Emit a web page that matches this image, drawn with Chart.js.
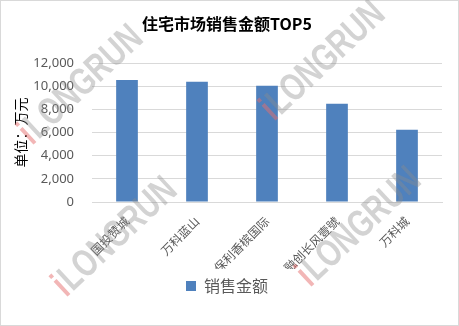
<!DOCTYPE html>
<html>
<head>
<meta charset="utf-8">
<script src="https://cdn.jsdelivr.net/npm/chart.js@4/dist/chart.umd.min.js"></script>
<style>
  html, body { margin: 0; padding: 0; background: #fff; }
  #wrap { width: 459px; height: 326px; }
</style>
</head>
<body>
<div id="wrap"><canvas id="salesChart" width="459" height="326"></canvas></div>
<script>
const projects = ['国投赞城', '万科蓝山', '保利香槟国际', '融创长风壹號', '万科城'];
const salesAmount = [10550, 10400, 10050, 8500, 6250];
const yTicks = [0, 2000, 4000, 6000, 8000, 10000, 12000];

const cjk = '"Noto Sans CJK SC", "Noto Sans", sans-serif';

// frame + white background
const framePlugin = {
  id: 'frame',
  beforeDraw(chart) {
    const ctx = chart.ctx;
    ctx.save();
    ctx.fillStyle = '#fff';
    ctx.fillRect(0, 0, chart.width, chart.height);
    ctx.strokeStyle = '#d9d9d9';
    ctx.lineWidth = 1;
    ctx.strokeRect(0.5, 0.5, chart.width - 1, chart.height - 1);
    ctx.restore();
  }
};

// iLONGRUN watermark
const watermarkPlugin = {
  id: 'watermark',
  afterDraw(chart) {
    const ctx = chart.ctx;
    const spots = [[32, 146], [66, 298], [274, 122], [310, 288]];
    ctx.save();
    spots.forEach(([x, y]) => {
      ctx.save();
      ctx.translate(x, y);
      ctx.rotate(-43 * Math.PI / 180);
      ctx.scale(0.9, 1.2);
      ctx.font = 'bold 32px "Liberation Sans", Arial, sans-serif';
      ctx.textBaseline = 'alphabetic';
      ctx.fillStyle = 'rgba(230, 110, 110, 0.5)';
      ctx.fillText('i', 0, 0);
      const w = ctx.measureText('i').width;
      ctx.fillStyle = 'rgba(140, 140, 140, 0.38)';
      ctx.fillText('LONGRUN', w + 1, 0);
      ctx.restore();
    });
    ctx.restore();
  }
};

new Chart(document.getElementById('salesChart').getContext('2d'), {
  type: 'bar',
  data: {
    labels: projects,
    datasets: [{
      label: '销售金额',
      data: salesAmount,
      backgroundColor: '#4f81bd',
      borderWidth: 0,
      categoryPercentage: 1,
      barPercentage: 0.31
    }]
  },
  options: {
    responsive: false,
    animation: false,
    layout: { padding: { left: 12, right: 17, top: 0, bottom: 22 } },
    plugins: {
      title: {
        display: true,
        text: '住宅市场销售金额TOP5',
        color: '#000',
        font: { family: cjk, size: 16, weight: 'bold' },
        padding: { top: 14, bottom: 30 }
      },
      legend: {
        position: 'bottom',
        labels: {
          color: '#595959',
          font: { family: cjk, size: 16 },
          boxWidth: 10,
          boxHeight: 10,
          padding: 9
        }
      },
      tooltip: { enabled: false }
    },
    scales: {
      x: {
        grid: { display: false, drawTicks: false },
        border: { color: '#d9d9d9' },
        ticks: {
          color: '#595959',
          font: { family: cjk, size: 12 },
          maxRotation: 45,
          minRotation: 45,
          padding: 12
        },
        afterFit(scale) { scale.height = 67; }
      },
      y: {
        min: 0,
        max: 12000,
        afterBuildTicks(scale) { scale.ticks = yTicks.map(v => ({ value: v })); },
        grid: { color: '#d9d9d9', drawTicks: false },
        border: { display: false },
        ticks: {
          color: '#595959',
          font: { family: '"Noto Sans", sans-serif', size: 13 },
          padding: 18,
          callback: v => v.toLocaleString('en-US')
        },
        title: {
          display: true,
          text: '单位：万元',
          color: '#000',
          font: { family: cjk, size: 14 },
          padding: { top: 0, bottom: 0 }
        },
        afterFit(scale) { scale.width = 80; }
      }
    }
  },
  plugins: [framePlugin, watermarkPlugin]
});
</script>
</body>
</html>
